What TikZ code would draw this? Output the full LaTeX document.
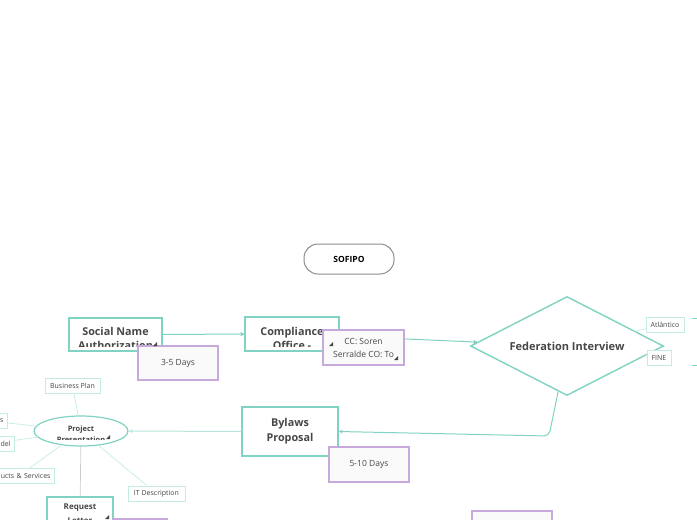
\documentclass[tikz,border=0pt]{standalone}
\usepackage{fontspec}
\setmainfont{Open Sans}
\usetikzlibrary{positioning,arrows.meta,shapes.geometric}
\definecolor{mmteal}{HTML}{80D2C2}
\definecolor{mmpale}{HTML}{C4ECE4}
\definecolor{mmlilac}{HTML}{C8A9DC}
\definecolor{mmink}{HTML}{474747}
\definecolor{mmgray}{HTML}{8C8C8C}
\definecolor{mmnote}{HTML}{FAFAFA}

\newcommand{\notetick}[1]{\fill[mmink] #1 ++(2,-2) -- ++(0,4) -- ++(-4,0) -- cycle;}

\begin{document}
\begin{tikzpicture}[x=1pt, y=-1pt, >={Stealth[length=4pt,width=4pt]},
    topic/.style={rectangle, draw=mmteal, line width=1.4pt, fill=white, inner sep=0pt, text=mmink},
    note/.style={rectangle, draw=mmlilac, line width=1.2pt, fill=mmnote, text=mmink, inner sep=0pt,
      minimum width=80pt, minimum height=34pt, align=center, font=\fontsize{8.5}{13}\selectfont},
    leaf/.style={rectangle, draw=mmpale, line width=0.9pt, fill=white, text=mmink, inner sep=0pt,
      inner xsep=4pt, minimum height=15pt, font=\fontsize{7}{8}\selectfont},
    cut/.style n args={4}{path picture={
      \clip ([shift={(3pt,#4)}]path picture bounding box.south west)
        rectangle ([shift={(-3pt,-3pt)}]path picture bounding box.north east);
      \node[text=mmink, font=#2, align=center, inner sep=0pt]
        at ([yshift=#3]path picture bounding box.center) {#1};}},
    link/.style={draw=mmteal, line width=1pt},
    twig/.style={draw=mmpale, line width=0.7pt}]

\useasboundingbox (0,0) rectangle (697,520);

\node[rectangle, rounded corners=14pt, draw=mmgray, line width=1pt, minimum width=90pt, minimum height=30pt,
  text=black, font=\bfseries\fontsize{8.5}{10}\selectfont] (sofipo) at (349,259) {SOFIPO};

\node[topic, minimum width=93pt, minimum height=33pt,
  cut={Social Name\\Authorization}{\bfseries\fontsize{10.8}{14}\selectfont}{-4pt}{4.5pt}] (social) at (115.5,334.5) {};
\node[topic, minimum width=94pt, minimum height=34pt,
  cut={Compliance\\Office -}{\bfseries\fontsize{10.8}{14}\selectfont}{-4pt}{4.5pt}] (comp) at (292,334) {};
\node[diamond, aspect=2, draw=mmteal, line width=1.4pt, fill=white, minimum width=193pt, minimum height=99pt,
  inner sep=0pt, text=mmink, font=\bfseries\fontsize{11}{13}\selectfont] (fed) at (567,346) {Federation Interview};
\node[topic, minimum width=96pt, minimum height=49pt, align=center,
  font=\bfseries\fontsize{10.8}{15}\selectfont] (bylaws) at (290,431.5) {Bylaws\\Proposal};
\node[ellipse, draw=mmteal, line width=1.2pt, fill=white, minimum width=94pt, minimum height=30pt, inner sep=0pt,
  cut={Project\\Presentation}{\bfseries\fontsize{7.5}{11}\selectfont}{-3pt}{6.5pt}] (pp) at (81,431) {};
\node[topic, minimum width=66pt, minimum height=34pt,
  cut={Request\\Letter}{\bfseries\fontsize{8}{14}\selectfont}{0pt}{4.5pt}] (req) at (80,514) {};

\node[leaf, minimum width=55pt] (bplan) at (72.5,386) {Business Plan};
\node[leaf, minimum width=57pt] (itdesc) at (156.5,493.5) {IT Description};
\node[leaf, anchor=east, text width=36pt, align=right] (obj) at (8,420.5) {s};
\node[leaf, anchor=east, text width=36pt, align=right] (model) at (15,443.5) {del};
\node[leaf, anchor=east, text width=64pt, align=right] (prod) at (55,476) {ucts \& Services};
\node[leaf, minimum width=38pt] (atl) at (665,324.5) {Atlántico};
\node[leaf, minimum width=24pt] (fine) at (659,357.5) {FINE};

\coordinate (fedbend) at (549,436);
\coordinate (outa) at (692,318.5);
\coordinate (outb) at (692,365.5);

\path[link,->]
  (social) edge (comp)
  (comp) edge (fed)
  (bylaws) edge[draw=mmteal!55] (pp);
\draw[link,->,rounded corners=5pt] (fed.-101) -- (fedbend) -- (bylaws.east);
\draw[link] (outa) -- ++(6,0) (outb) -- ++(6,0);

\path[twig]
  (bplan) edge (pp)
  (obj) edge (pp)
  (model) edge (pp)
  (prod) edge (pp)
  (itdesc) edge (pp)
  (fed) edge (atl)
  (fed) edge (fine)
  (pp) edge[draw=black!20] (req);

\node[note] (days35) at (178,363) {3-5 Days};
\node[note, minimum width=81pt, minimum height=35pt] (ccnote) at (363.5,347.5) {CC: Soren\\Serralde CO: To};
\node[note, minimum height=35pt] (days510) at (369,464.5) {5-10 Days};
\node[note, minimum width=54pt] (reqnote) at (140,536) {};
\node[note] (fednote) at (512,528) {};

\notetick{(155,344)}
\notetick{(331,344)}
\notetick{(396,358)}
\notetick{(108,437)}
\notetick{(107,517)}
\end{tikzpicture}
\end{document}
